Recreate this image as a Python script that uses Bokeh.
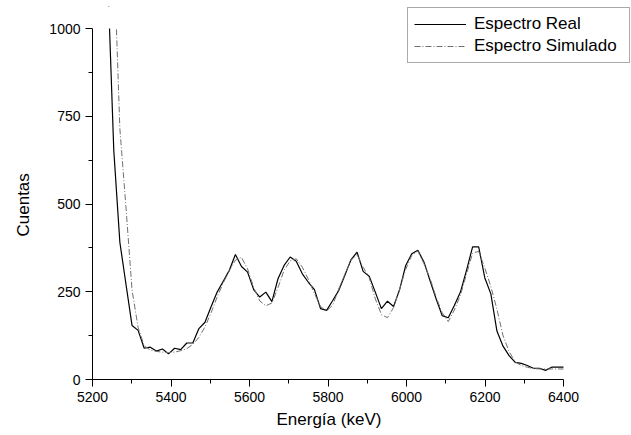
from bokeh.plotting import figure
from bokeh.models import Range1d, FixedTicker, Legend, LegendItem, BoxAnnotation, Title
from bokeh.embed import file_html
from bokeh.resources import INLINE

energia = [5238.7, 5254.2, 5269.7, 5285.2, 5300.7, 5316.2, 5331.7, 5347.2, 5362.7, 5378.2,
           5393.7, 5409.2, 5424.7, 5440.2, 5455.6, 5471.1, 5486.6, 5502.1, 5517.6, 5533.1,
           5548.6, 5564.1, 5579.6, 5595.1, 5610.6, 5626.1, 5641.6, 5657.1, 5672.6, 5688.1,
           5703.6, 5719.1, 5734.6, 5750.0, 5765.5, 5781.0, 5796.5, 5812.0, 5827.5, 5843.0,
           5858.5, 5874.0, 5889.5, 5905.0, 5920.5, 5936.0, 5951.5, 5967.0, 5982.5, 5998.0,
           6013.4, 6028.9, 6044.4, 6059.9, 6075.4, 6090.9, 6106.4, 6121.9, 6137.4, 6152.9,
           6168.4, 6183.9, 6199.4, 6214.9, 6230.4, 6245.9, 6261.4, 6276.9, 6292.3, 6307.8,
           6323.3, 6338.8, 6354.3, 6369.8, 6385.3, 6400.0]

real = [1150, 653, 391, 272, 154, 140, 89, 92, 81, 87,
        73, 89, 85, 104, 104, 145, 163, 207, 249, 280,
        311, 356, 322, 306, 256, 235, 249, 222, 287, 325,
        349, 337, 301, 277, 256, 202, 197, 225, 254, 297,
        341, 363, 308, 294, 249, 202, 223, 208, 256, 325,
        358, 368, 335, 282, 230, 182, 176, 211, 249, 311,
        378, 378, 290, 244, 138, 95, 68, 49, 46, 40,
        32, 32, 26, 35, 35, 35]

simulado = [2000, 1223, 715, 492, 255, 148, 96, 84, 80, 78,
            77, 78, 82, 88, 100, 120, 150, 190, 235, 275,
            310, 340, 348, 315, 262, 224, 210, 218, 262, 311,
            338, 344, 320, 285, 245, 208, 195, 212, 258, 300,
            340, 356, 320, 290, 230, 185, 176, 205, 258, 314,
            354, 366, 330, 288, 235, 190, 165, 198, 240, 300,
            360, 365, 318, 265, 200, 125, 80, 50, 40, 35,
            31, 30, 30, 30, 30, 30]

x_bounds = (5200, 6400)
y_bounds = (0, 1000)
x_major = [5200, 5400, 5600, 5800, 6000, 6200, 6400]
x_minor = [5300, 5500, 5700, 5900, 6100, 6300]
y_major = [0, 250, 500, 750, 1000]
y_minor = [125, 375, 625, 875]

FONT = "Liberation Sans"

# frame: left 92 .. right 630 px, top 6 .. bottom 379 px; data area 5200-6400 spans 471 px,
# 0-1000 spans 351 px; the extra frame room holds the legend, which sits above the axes' ends
x_end = 5200 + 538 * 1200 / 471
y_end = 373 * 1000 / 351

p = figure(width=631, height=435, output_backend="svg", toolbar_location=None,
           x_range=Range1d(5200, x_end), y_range=Range1d(0, y_end),
           min_border_left=92, min_border_top=6, min_border_right=1, min_border_bottom=56)
p.outline_line_color = None
p.xgrid.visible = False
p.ygrid.visible = False
p.background_fill_color = "white"
p.border_fill_color = "white"

r_real = p.line(energia, real, line_color="black", line_width=1.2)
r_sim = p.line(energia, simulado, line_color="#707070", line_width=1, line_dash="6 2 1 2")

# hide curve parts above the 1000-count top of the plot area
p.add_layout(BoxAnnotation(bottom=y_bounds[1], fill_color="white", fill_alpha=1,
                           line_color=None))

for ax in (p.xaxis[0], p.yaxis[0]):
    ax.axis_line_color = "black"
    ax.axis_line_width = 1
    ax.major_tick_line_color = "black"
    ax.minor_tick_line_color = "black"
    ax.major_tick_out = 7
    ax.major_tick_in = 0
    ax.minor_tick_out = 4
    ax.minor_tick_in = 0
    ax.major_label_text_font = FONT
    ax.major_label_text_font_size = "14px"
    ax.major_label_text_color = "black"
    ax.major_label_standoff = 5

p.xaxis[0].bounds = x_bounds
p.yaxis[0].bounds = y_bounds
p.xaxis[0].ticker = FixedTicker(ticks=x_major, minor_ticks=x_minor)
p.yaxis[0].ticker = FixedTicker(ticks=y_major, minor_ticks=y_minor)

# axis titles, centred on the 5200-6400 / 0-1000 data area rather than the wider frame
xt = Title(text="Energía (keV)", align="left", offset=184, standoff=6,
           text_font=FONT, text_font_size="17px", text_font_style="normal",
           text_color="black")
p.add_layout(xt, "below")
yt = Title(text="Cuentas", align="left", offset=143, standoff=24, vertical_align="top",
           text_font=FONT, text_font_size="17px", text_font_style="normal",
           text_color="black")
p.add_layout(yt, "left")

legend = Legend(items=[LegendItem(label="Espectro Real", renderers=[r_real]),
                       LegendItem(label="Espectro Simulado", renderers=[r_sim])],
                location=(315, 316))
legend.label_text_font = FONT
legend.label_text_font_size = "17px"
legend.label_text_color = "black"
legend.label_height = 20
legend.glyph_height = 20
legend.glyph_width = 52
legend.label_standoff = 8
legend.label_width = 149
legend.spacing = 2
legend.padding = 6
legend.margin = 0
legend.border_line_color = "#555555"
legend.border_line_width = 1.5
legend.background_fill_alpha = 1
p.add_layout(legend, "center")

open("out.html", "w").write(file_html(p, INLINE))
